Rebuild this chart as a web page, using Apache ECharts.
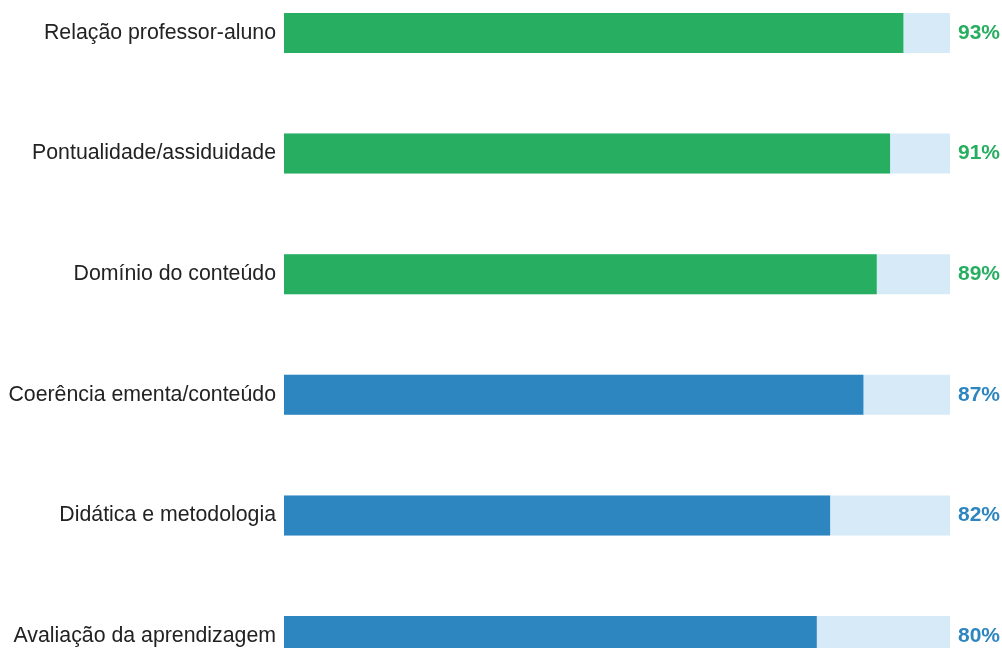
<!DOCTYPE html>
<html>
<head>
<meta charset="utf-8">
<script src="https://cdn.jsdelivr.net/npm/echarts@6/dist/echarts.min.js"></script>
<style>html,body{margin:0;padding:0;background:#fff}#c{width:1002px;height:648px}</style>
</head>
<body>
<div id="c"></div>
<script>
const categories = ["Relação professor-aluno","Pontualidade/assiduidade","Domínio do conteúdo","Coerência ementa/conteúdo","Didática e metodologia","Avaliação da aprendizagem"];
const values = [93, 91, 89, 87, 82, 80];
const trackMax = [100, 100, 100, 100, 100, 100];
const GREEN = "#27ae60", BLUE = "#2e86c1";
const colorFor = v => v >= 89 ? GREEN : BLUE;
const FONT = "'Liberation Sans', Arial, sans-serif";

const chart = echarts.init(document.getElementById('c'));
chart.setOption({
  animation: false,
  textStyle: { fontFamily: FONT },
  grid: { left: 284, right: 52, top: 33, bottom: 12, containLabel: false },
  xAxis: { type: 'value', min: 0, max: 100, show: false },
  yAxis: {
    type: 'category', data: categories, inverse: true, boundaryGap: false,
    axisLine: { show: false }, axisTick: { show: false }, splitLine: { show: false },
    axisLabel: { color: '#222', fontSize: 21.3, margin: 8, fontFamily: FONT }
  },
  series: [
    {
      type: 'bar', barWidth: 40, barGap: '-100%', clip: false, silent: true,
      data: trackMax.map((t, i) => ({ value: t, label: { color: colorFor(values[i]) } })),
      itemStyle: { color: '#d6eaf8' },
      label: {
        show: true, position: 'right', distance: 8, fontSize: 21, fontWeight: 'bold',
        fontFamily: FONT,
        formatter: p => values[p.dataIndex] + '%'
      },
      z: 1
    },
    {
      type: 'bar', data: values.map(v => ({ value: v, itemStyle: { color: colorFor(v) } })),
      barWidth: 40, barGap: '-100%', clip: false, z: 2
    }
  ]
});
</script>
</body>
</html>
